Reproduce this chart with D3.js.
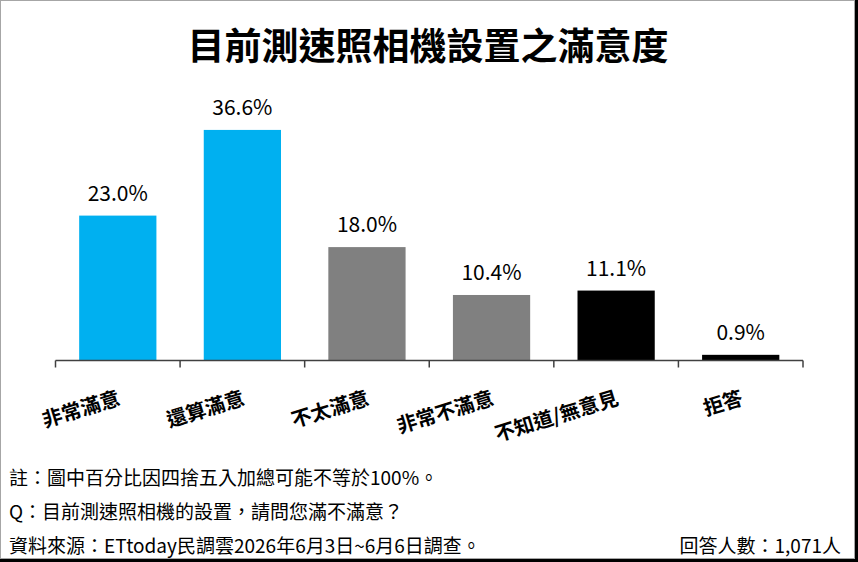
<!DOCTYPE html>
<html>
<head>
<meta charset="utf-8">
<script src="https://cdn.jsdelivr.net/npm/d3@7"></script>
<style>
  html, body { margin: 0; padding: 0; background: #fff; }
  svg { display: block; font-family: "Noto Sans CJK TC", "Noto Sans", sans-serif; }
</style>
</head>
<body>
<svg id="chart" width="858" height="562"></svg>
<script>
// chart data
var categories = ["非常滿意", "還算滿意", "不太滿意", "非常不滿意", "不知道/無意見", "拒答"];
var values = [23.0, 36.6, 18.0, 10.4, 11.1, 0.9];
var titleText = "目前測速照相機設置之滿意度";
var notes = [
    "註：圖中百分比因四捨五入加總可能不等於100%。",
    "Q：目前測速照相機的設置，請問您滿不滿意？",
    "資料來源：ETtoday民調雲2026年6月3日~6月6日調查。"
];
var sampleText = "回答人數：1,071人";

var svg = d3.select("#chart"),
    width = +svg.attr("width"),
    height = +svg.attr("height");

// frame + shadow
svg.append("rect")
    .attr("x", 0.5).attr("y", 0.5)
    .attr("width", 854).attr("height", 558)
    .attr("fill", "#fff")
    .attr("stroke", "#a6a6a6");
svg.append("rect").attr("x", 855).attr("y", 0).attr("width", 3).attr("height", height).attr("fill", "#000");
svg.append("rect").attr("x", 0).attr("y", 559).attr("width", width).attr("height", 3).attr("fill", "#000");

// title
svg.append("text")
    .attr("x", 428)
    .attr("y", 44)
    .attr("text-anchor", "middle")
    .attr("dominant-baseline", "central")
    .attr("font-size", "37px")
    .attr("font-weight", "bold")
    .attr("fill", "#000")
    .text(titleText);

var x = d3.scaleBand()
    .domain(categories)
    .range([55.5, 803])
    .paddingInner(0.38)
    .paddingOuter(0.19);

var y = d3.scaleLinear()
    .domain([0, 40])
    .range([360.5, 108.5]);

var color = d3.scaleOrdinal()
    .domain(categories)
    .range(["#00b0f0", "#00b0f0", "#808080", "#808080", "#000000", "#000000"]);

var data = categories.map(function (c, i) { return { cat: c, val: values[i] }; });

// bars
svg.selectAll(".bar")
    .data(data)
    .enter().append("rect")
    .attr("class", "bar")
    .attr("x", function (d) { return x(d.cat); })
    .attr("width", x.bandwidth())
    .attr("y", function (d) { return y(d.val); })
    .attr("height", function (d) { return y(0) - y(d.val); })
    .attr("fill", function (d) { return color(d.cat); });

// value labels
svg.selectAll(".val")
    .data(data)
    .enter().append("text")
    .attr("class", "val")
    .attr("x", function (d) { return x(d.cat) + x.bandwidth() / 2; })
    .attr("y", function (d) { return y(d.val) - 15; })
    .attr("text-anchor", "middle")
    .attr("font-size", "21px")
    .attr("fill", "#000")
    .text(function (d) { return d.val.toFixed(1) + "%"; });

// axis: baseline with tick marks at band boundaries
var step = x.step();
var tickPos = d3.range(categories.length + 1).map(function (i) { return 55.5 + i * step; });
var gAxis = svg.append("g").attr("class", "axis");
gAxis.append("line")
    .attr("x1", 55.5).attr("x2", 803)
    .attr("y1", 360.5).attr("y2", 360.5)
    .attr("stroke", "#404040").attr("stroke-width", 1.5);
gAxis.selectAll(".tick")
    .data(tickPos)
    .enter().append("line")
    .attr("x1", function (d) { return d; }).attr("x2", function (d) { return d; })
    .attr("y1", 360.5).attr("y2", 367.5)
    .attr("stroke", "#404040").attr("stroke-width", 1.5);

// rotated category labels
svg.selectAll(".cat")
    .data(categories)
    .enter().append("text")
    .attr("class", "cat")
    .attr("transform", function (d) {
        return "translate(" + (x(d) + x.bandwidth() / 2 + 1) + ",396) rotate(-17)";
    })
    .attr("text-anchor", "end")
    .attr("dominant-baseline", "central")
    .attr("font-size", "20px")
    .attr("font-weight", "bold")
    .attr("fill", "#000")
    .text(function (d) { return d; });

// notes
svg.selectAll(".note")
    .data(notes)
    .enter().append("text")
    .attr("class", "note")
    .attr("x", 9)
    .attr("y", function (d, i) { return [476, 510, 544][i]; })
    .attr("dominant-baseline", "central")
    .attr("font-size", "19px")
    .attr("fill", "#000")
    .text(function (d) { return d; });

svg.append("text")
    .attr("x", 841)
    .attr("y", 544)
    .attr("text-anchor", "end")
    .attr("dominant-baseline", "central")
    .attr("font-size", "19px")
    .attr("fill", "#000")
    .text(sampleText);
</script>
</body>
</html>
